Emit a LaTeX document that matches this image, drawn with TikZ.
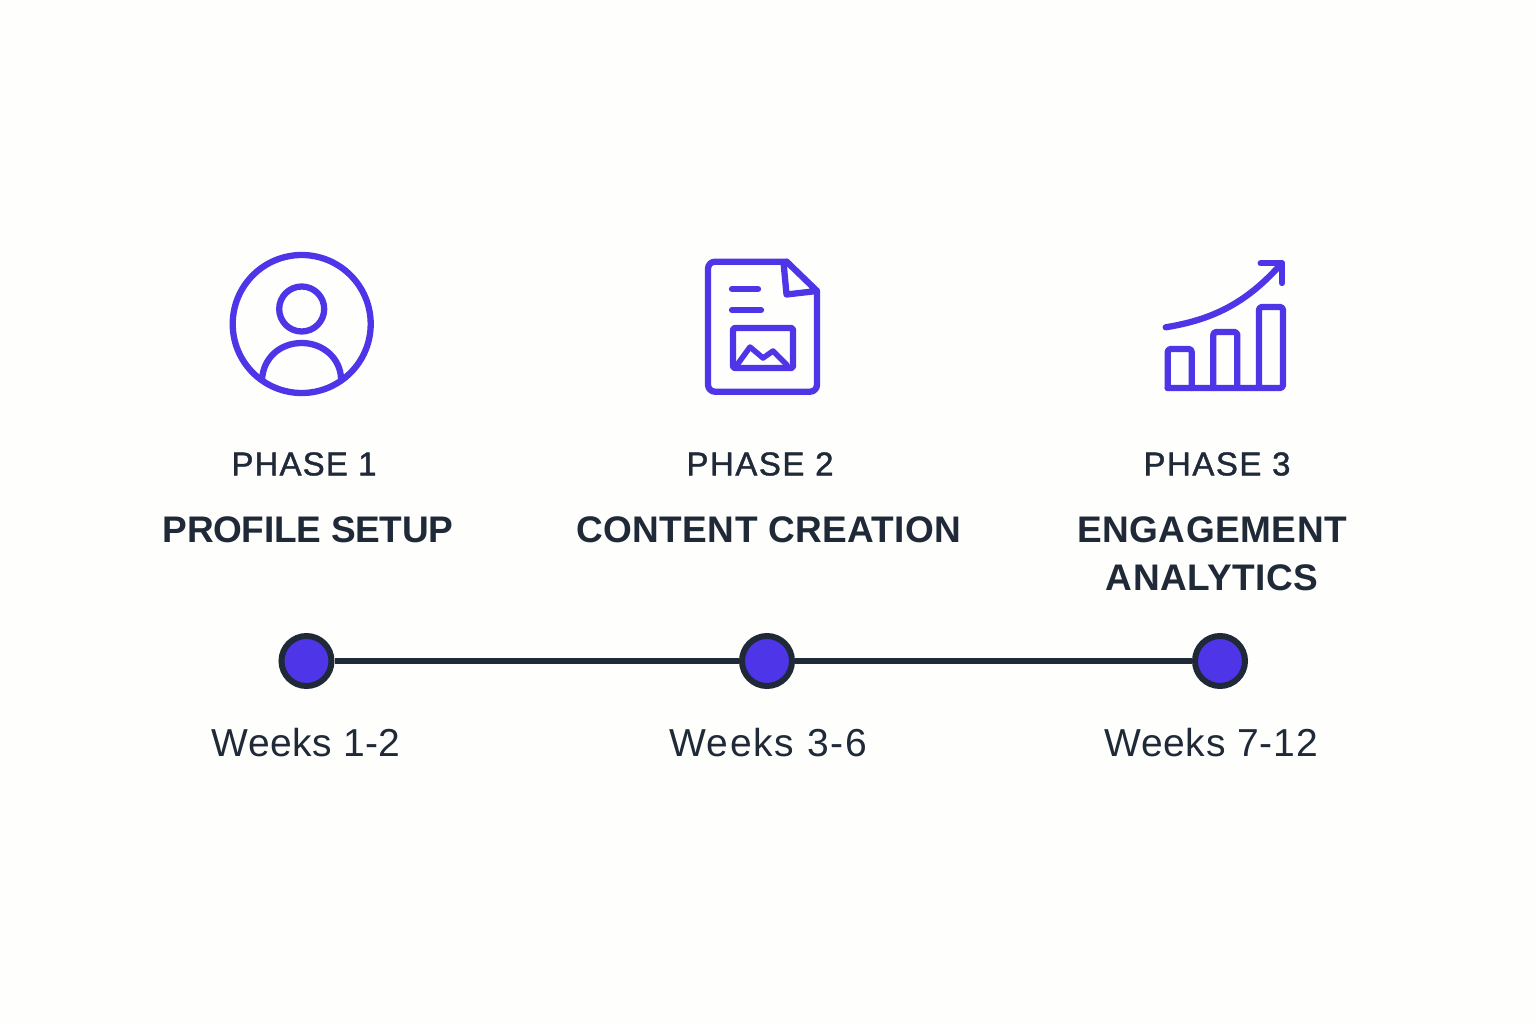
\documentclass[tikz,border=0pt]{standalone}
\usepackage{fontspec}
\setmainfont[LetterSpace=1]{Liberation Sans}
\newfontfamily\phasefont[LetterSpace=4.6,FakeBold=1.2]{Liberation Sans}
\newfontfamily\titlefont[LetterSpace=1.4]{Liberation Sans Bold}
\definecolor{ink}{HTML}{1F2937}
\definecolor{vio}{HTML}{4F35E8}
\definecolor{bgc}{HTML}{FEFEFD}
\tikzset{
 icon/.style={draw=vio,line width=6.3pt,line join=round,line cap=round},
 phaselabel/.style={text=ink,font=\phasefont\fontsize{33}{38}\selectfont,anchor=center,inner sep=0pt},
 titlelabel/.style={text=ink,font=\titlefont\fontsize{37}{48}\selectfont,anchor=center,inner sep=0pt,align=center},
 weeklabel/.style={text=ink,font=\fontsize{39}{46}\selectfont,anchor=center,inner sep=0pt},
 dot/.style={circle,draw=ink,fill=vio,line width=6pt,minimum size=50pt,inner sep=0pt},
 link/.style={draw=ink,line width=6pt}
}
\begin{document}
\begin{tikzpicture}[x=1pt,y=-1pt]
\useasboundingbox (0,0) rectangle (1536,1024);
\fill[bgc] (0,0) rectangle (1536,1024);
% icon 1
\draw[icon] (301.7,324) circle[radius=69];
\draw[icon] (301.7,309) circle[radius=22.5];
\draw[icon] (262,380) .. controls (263,358) and (280,343) .. (301.7,343) .. controls (323,343) and (340,358) .. (341,378);
% icon 2
\draw[icon,rounded corners=7pt] (786.7,261.7) -- (708,261.7) -- (708,391.7) -- (817,391.7) -- (817,291);
\draw[icon] (786.7,261.7) -- (817,291) -- (786.5,294.5) -- (783.5,262);
\draw[icon] (732,289) -- (758,289);
\draw[icon] (732,310) -- (761,310);
\draw[icon,rounded corners=2pt] (733,328) rectangle (793,368);
\draw[icon,line width=5.5pt] (737,365) -- (750,347) -- (763,358) -- (773,351) -- (787,365);
% icon 3
\draw[icon,rounded corners=3pt] (1167.7,388) -- (1167.7,349) -- (1191.7,349) -- (1191.7,388);
\draw[icon,rounded corners=3pt] (1213.3,388) -- (1213.3,332) -- (1237.3,332) -- (1237.3,388);
\draw[icon,rounded corners=3pt] (1167.7,388) -- (1283,388) -- (1283,307) -- (1259,307) -- (1259,388);
\draw[icon] (1165.7,327.3) .. controls (1210,320) and (1245,305) .. (1281.7,263.3);
\draw[icon] (1260.7,263.3) -- (1282,263.3) -- (1282,283);
% text
\node[phaselabel] (p1) at (304,464) {\addfontfeature{LetterSpace=3.4}PHASE 1};
\node[phaselabel] (p2) at (760,464) {PHASE 2};
\node[phaselabel] (p3) at (1217,464) {PHASE 3};
\node[titlelabel] (t1) at (308,530) {\addfontfeature{LetterSpace=-0.8}PROFILE SETUP};
\node[titlelabel] (t2) at (769,530) {\addfontfeature{LetterSpace=1}CONTENT CREATION};
\node[titlelabel] (t3) at (1212,554) {ENGAGEMENT\\ANALYTICS};
% timeline
\node[dot] (d1) at (306.5,661) {};
\node[dot] (d2) at (767,661) {};
\node[dot] (d3) at (1220,661) {};
\draw[link] (d1) -- (d2);
\draw[link] (d2) -- (d3);
\node[weeklabel] (w1) at (306,743) {Weeks 1-2};
\node[weeklabel] (w2) at (768,743) {\addfontfeature{LetterSpace=4.5}Weeks 3-6};
\node[weeklabel] (w3) at (1211,743) {\addfontfeature{LetterSpace=2}Weeks 7-12};
\end{tikzpicture}
\end{document}
